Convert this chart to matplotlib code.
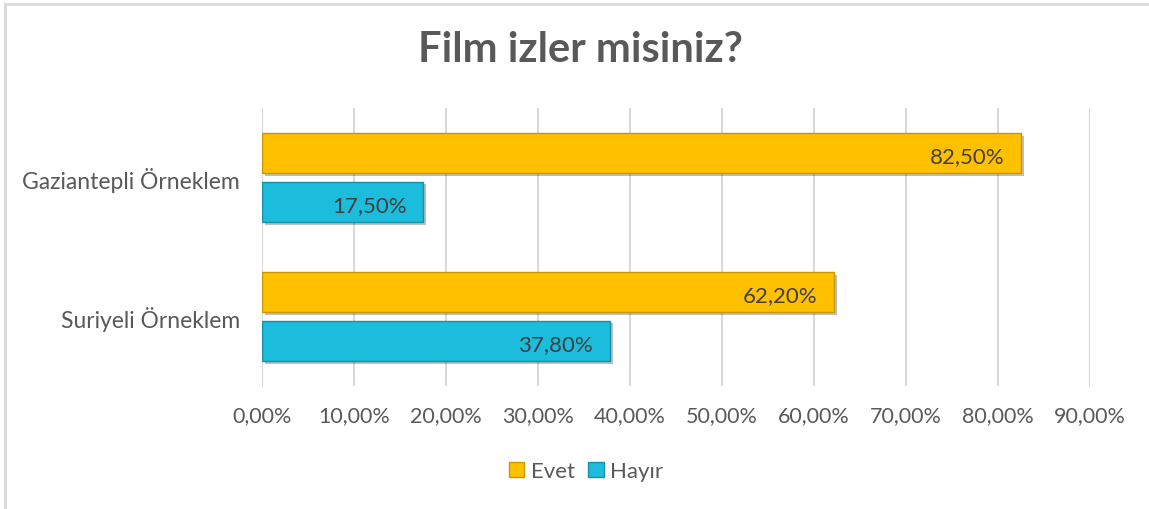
import matplotlib.pyplot as plt
import matplotlib.patheffects as pe
from matplotlib.patches import Rectangle
from matplotlib.ticker import FuncFormatter

# Survey answers (percent)
categories = ["Suriyeli Örneklem", "Gaziantepli Örneklem"]
evet = [62.2, 82.5]
hayir = [37.8, 17.5]
series_names = ["Evet", "Hayır"]

plt.rcParams['font.family'] = ['Lato', 'DejaVu Sans']
text_gray = '#595959'

fig = plt.figure(figsize=(11.49, 5.10), dpi=100)
ax = fig.add_axes([262 / 1149, 1 - 387 / 510, (1090 - 262) / 1149, (387 - 109) / 510])

shadow = [pe.SimplePatchShadow(offset=(2, -2), shadow_rgbFace='#000000', alpha=0.25), pe.Normal()]
y = list(range(len(categories)))
h = 0.29
off = 0.175
b1 = ax.barh([v + off for v in y], evet, height=h, color='#FFC000', edgecolor='#C99700',
             linewidth=1, label=series_names[0], path_effects=shadow, zorder=3)
b2 = ax.barh([v - off for v in y], hayir, height=h, color='#1BBCDC', edgecolor='#1590A8',
             linewidth=1, label=series_names[1], path_effects=shadow, zorder=3)

for bars, vals in ((b1, evet), (b2, hayir)):
    for bar, v in zip(bars, vals):
        ax.text(v - 1.8, bar.get_y() + bar.get_height() / 2 - 0.02,
                f"{v:.2f}%".replace('.', ','), ha='right', va='center',
                fontsize=16, color='#404040', zorder=4)

ax.set_xlim(0, 90)
ax.set_ylim(-0.5, 1.5)
ax.set_xticks(range(0, 91, 10))
ax.xaxis.set_major_formatter(FuncFormatter(lambda x, p: f"{x:.2f}%".replace('.', ',')))
ax.set_yticks(y)
ax.set_yticklabels(categories)
ax.tick_params(axis='both', length=0, labelcolor=text_gray)
ax.tick_params(axis='x', pad=14, labelsize=15.5)
ax.tick_params(axis='y', pad=16, labelsize=16.5)
ax.grid(axis='x', color='#D9D9D9', linewidth=1.5, zorder=0)
for s in ax.spines.values():
    s.set_visible(False)

fig.suptitle("Film izler misiniz?", x=0.505, y=0.94, fontsize=30, fontweight='bold', color=text_gray)

leg = fig.legend(handles=[b1, b2], labels=series_names, loc='center', bbox_to_anchor=(0.510, 0.074),
                 ncol=2, frameon=False, fontsize=16, handlelength=0.7, handleheight=0.7,
                 handletextpad=0.3, columnspacing=0.6, labelcolor=text_gray)
for hnd in leg.legend_handles:
    hnd.set_path_effects([])

# chart area border
fig.patches.append(Rectangle((4.5 / 1149, -0.1), 1.2, 1 - 4.5 / 510 + 0.1, transform=fig.transFigure,
                             fill=False, edgecolor='#D9D9D9', linewidth=2))

fig.savefig('out.png', dpi=100)
